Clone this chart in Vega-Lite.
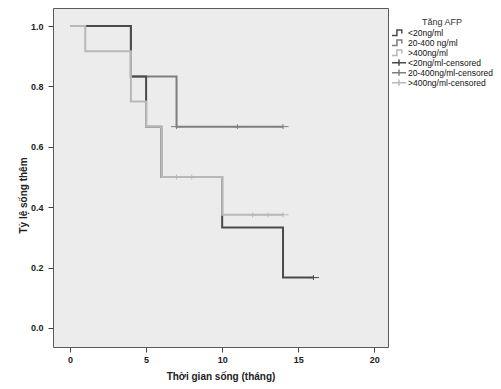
{
  "$schema": "https://vega.github.io/schema/vega-lite/v6.json",
  "autosize": "none",
  "width": 335,
  "height": 339,
  "padding": {"left": 53, "top": 8, "right": 113, "bottom": 42},
  "background": "white",
  "config": {
    "view": {"fill": "#ececec", "stroke": "#5a5a5a", "strokeWidth": 1},
    "font": "Liberation Sans",
    "axis": {
      "grid": false,
      "domain": false,
      "tickColor": "#444",
      "tickSize": 5,
      "labelColor": "#222",
      "labelFontSize": 9,
      "labelFontWeight": "bold",
      "titleColor": "#222",
      "titleFontSize": 10,
      "titleFontWeight": "bold"
    }
  },
  "datasets": {
    "curves": [
      {"group": "20-400 ng/ml", "t": 0, "s": 1.0},
      {"group": "20-400 ng/ml", "t": 4, "s": 0.833},
      {"group": "20-400 ng/ml", "t": 7, "s": 0.667},
      {"group": "20-400 ng/ml", "t": 14, "s": 0.667},
      {"group": "<20ng/ml", "t": 0, "s": 1.0},
      {"group": "<20ng/ml", "t": 4, "s": 0.833},
      {"group": "<20ng/ml", "t": 5, "s": 0.667},
      {"group": "<20ng/ml", "t": 6, "s": 0.5},
      {"group": "<20ng/ml", "t": 10, "s": 0.333},
      {"group": "<20ng/ml", "t": 14, "s": 0.167},
      {"group": "<20ng/ml", "t": 16, "s": 0.167},
      {"group": ">400ng/ml", "t": 0, "s": 1.0},
      {"group": ">400ng/ml", "t": 1, "s": 0.917},
      {"group": ">400ng/ml", "t": 4, "s": 0.75},
      {"group": ">400ng/ml", "t": 5, "s": 0.667},
      {"group": ">400ng/ml", "t": 6, "s": 0.5},
      {"group": ">400ng/ml", "t": 10, "s": 0.375},
      {"group": ">400ng/ml", "t": 14, "s": 0.375}
    ],
    "censored": [
      {"group": "<20ng/ml-censored", "t": 16, "s": 0.167},
      {"group": "20-400ng/ml-censored", "t": 7, "s": 0.667},
      {"group": "20-400ng/ml-censored", "t": 11, "s": 0.667},
      {"group": "20-400ng/ml-censored", "t": 14, "s": 0.667},
      {"group": ">400ng/ml-censored", "t": 7, "s": 0.5},
      {"group": ">400ng/ml-censored", "t": 8, "s": 0.5},
      {"group": ">400ng/ml-censored", "t": 12, "s": 0.375},
      {"group": ">400ng/ml-censored", "t": 13, "s": 0.375},
      {"group": ">400ng/ml-censored", "t": 14, "s": 0.375}
    ]
  },
  "encoding": {
    "x": {
      "field": "t", "type": "quantitative",
      "scale": {"domain": [-1.12, 20.9], "nice": false, "zero": false},
      "axis": {"values": [0, 5, 10, 15, 20], "labelPadding": 3, "titlePadding": 7, "title": "Thời gian sống (tháng)"}
    },
    "y": {
      "field": "s", "type": "quantitative",
      "scale": {"domain": [-0.063, 1.06], "nice": false, "zero": false},
      "axis": {"values": [0, 0.2, 0.4, 0.6, 0.8, 1.0], "format": ".1f", "labelPadding": 5, "titlePadding": 2, "titleY": 187, "title": "Tỷ lệ sống thêm"}
    }
  },
  "layer": [
    {
      "data": {"name": "curves"},
      "transform": [{"filter": "datum.group === '20-400 ng/ml'"}],
      "mark": {"type": "line", "interpolate": "step-after", "strokeWidth": 2},
      "encoding": {"color": {"field": "group", "type": "nominal"}}
    },
    {
      "data": {"name": "curves"},
      "transform": [{"filter": "datum.group === '<20ng/ml'"}],
      "mark": {"type": "line", "interpolate": "step-after", "strokeWidth": 2},
      "encoding": {"color": {"field": "group", "type": "nominal"}}
    },
    {
      "data": {"name": "curves"},
      "transform": [{"filter": "datum.group === '>400ng/ml'"}],
      "mark": {"type": "line", "interpolate": "step-after", "strokeWidth": 2},
      "encoding": {"color": {"field": "group", "type": "nominal"}}
    },
    {
      "data": {"name": "censored"},
      "mark": {"type": "point", "filled": false, "size": 121, "strokeWidth": 1, "opacity": 1},
      "encoding": {
        "color": {
          "field": "group", "type": "nominal",
          "scale": {
            "domain": ["<20ng/ml", "20-400 ng/ml", ">400ng/ml", "<20ng/ml-censored", "20-400ng/ml-censored", ">400ng/ml-censored"],
            "range": ["#4a4a4a", "#7e7e7e", "#b8b8b8", "#4a4a4a", "#7e7e7e", "#b8b8b8"]
          },
          "legend": {
            "title": "Tăng AFP",
            "orient": "none",
            "legendX": 338,
            "legendY": 10,
            "titleFontSize": 9,
            "titleFontWeight": "normal",
            "titleColor": "#333",
            "titleAnchor": "middle",
            "titleBaseline": "top",
            "titlePadding": 1,
            "labelFont": "Liberation Sans",
            "labelFontSize": 8.5,
            "labelColor": "#111",
            "labelOffset": 1,
            "symbolSize": 196,
            "symbolStrokeWidth": 1.5,
            "symbolFillColor": "transparent",
            "clipHeight": 9.4,
            "rowPadding": 0,
            "padding": 0
          }
        },
        "shape": {
          "field": "group", "type": "nominal",
          "scale": {
            "domain": ["<20ng/ml", "20-400 ng/ml", ">400ng/ml", "<20ng/ml-censored", "20-400ng/ml-censored", ">400ng/ml-censored"],
            "range": ["M-1,0.4H-0.3V-0.4H0.4V0.1", "M-1,0.4H-0.3V-0.4H0.4V0.1", "M-1,0.4H-0.3V-0.4H0.4V0.1", "M-1,0H1M0,-0.45V0.45", "M-1,0H1M0,-0.45V0.45", "M-1,0H1M0,-0.45V0.45"]
          }
        }
      }
    }
  ]
}
